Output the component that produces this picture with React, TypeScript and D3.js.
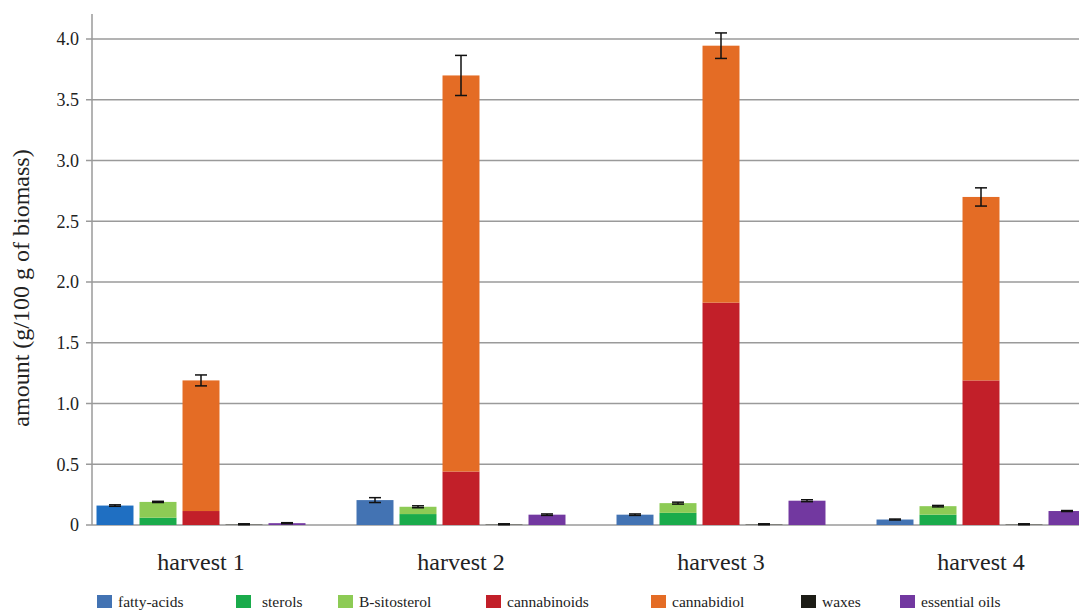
import React, { useEffect } from 'react';
import * as d3 from 'd3';

// harvests on the x axis
const harvests = ['harvest 1', 'harvest 2', 'harvest 3', 'harvest 4'];

// series values (g/100 g of biomass)
const fattyAcids = [0.16, 0.205, 0.085, 0.045];
const sterols = [0.06, 0.09, 0.1, 0.085];
const bSitosterol = [0.13, 0.06, 0.08, 0.07];
const cannabinoids = [0.115, 0.44, 1.83, 1.19];
const cannabidiol = [1.075, 3.26, 2.115, 1.51];
const waxes = [0.006, 0.006, 0.006, 0.006];
const essentialOils = [0.015, 0.085, 0.2, 0.115];

// error bars (half length) on top of each column
const errFatty = [0.006, 0.02, 0.006, 0.004];
const errSterols = [0.005, 0.008, 0.008, 0.006];
const errCannab = [0.045, 0.165, 0.105, 0.075];
const errWaxes = [0.004, 0.004, 0.004, 0.004];
const errOils = [0.004, 0.006, 0.008, 0.004];

const yTicks = [0, 0.5, 1, 1.5, 2, 2.5, 3, 3.5, 4];
const tickLabels = ['0', '0.5', '1.0', '1.5', '2.0', '2.5', '3.0', '3.5', '4.0'];

const legendNames = ['fatty-acids', 'sterols', 'B-sitosterol', 'cannabinoids', 'cannabidiol', 'waxes', 'essential oils'];
const legendColors = ['#4373b3', '#1aab4b', '#8dcb55', '#c21f29', '#e46c25', '#1c1c16', '#7238a0'];
const legendX = [97, 236, 338, 486, 651, 801, 900];

const columns = ['fatty', 'sterol', 'cannab', 'wax', 'oil'];

const serif = "'Liberation Serif', 'DejaVu Serif', 'Times New Roman', Times, serif";

export default function App() {
  useEffect(() => {
    document.body.style.margin = '0';
  }, []);

  const width = 1079;
  const height = 611;
  const axisX = 92;

  const y = d3.scaleLinear().domain([0, 4]).range([525, 39]);
  const x = d3.scaleBand().domain(harvests).range([71, 1111]);
  const inner = d3.scaleBand().domain(columns).range([-107.5, 107.5]).paddingInner(0.14).paddingOuter(0.07);
  const bw = inner.bandwidth();

  // each column: list of stacked segments and an error bar
  const stacks = harvests.map((h, i) => [
    { col: 'fatty', segs: [{ v: fattyAcids[i], c: i === 0 ? '#1f6fc2' : legendColors[0] }], err: errFatty[i] },
    { col: 'sterol', segs: [{ v: sterols[i], c: legendColors[1] }, { v: bSitosterol[i], c: legendColors[2] }], err: errSterols[i] },
    { col: 'cannab', segs: [{ v: cannabinoids[i], c: legendColors[3] }, { v: cannabidiol[i], c: legendColors[4] }], err: errCannab[i] },
    { col: 'wax', segs: [{ v: waxes[i], c: '#6e6e68' }], err: errWaxes[i] },
    { col: 'oil', segs: [{ v: essentialOils[i], c: legendColors[6] }], err: errOils[i] },
  ]);

  return (
    <svg width={width} height={height} style={{ display: 'block', background: '#fff', fontFamily: serif }}>
      {/* grid lines */}
      {yTicks.slice(1).map((t) => (
        <line key={t} x1={axisX - 6} x2={width} y1={y(t)} y2={y(t)} stroke="#9a9a9a" strokeWidth={1.5} />
      ))}
      <line x1={axisX - 6} x2={width} y1={y(0)} y2={y(0)} stroke="#9a9a9a" strokeWidth={1.5} />
      <line x1={axisX} x2={axisX} y1={14} y2={y(0)} stroke="#9a9a9a" strokeWidth={1.5} />
      {yTicks.map((t, i) => (
        <text key={t} x={79} y={y(t)} dy="0.35em" textAnchor="end" fontSize={18} fill="#222" style={{ fontFamily: serif }}>
          {tickLabels[i]}
        </text>
      ))}
      <text
        transform={`translate(29,288) rotate(-90)`}
        textAnchor="middle"
        fontSize={24}
        fill="#222"
        style={{ fontFamily: serif }}
      >
        amount (g/100 g of biomass)
      </text>

      {/* bars */}
      {harvests.map((h, i) => {
        const cx = (x(h) as number) + x.bandwidth() / 2;
        return (
          <g key={h}>
            {stacks[i].map((s) => {
              const bx = cx + (inner(s.col) as number);
              let acc = 0;
              const rects = s.segs.map((seg, k) => {
                const y0 = acc;
                acc += seg.v;
                return <rect key={k} x={bx} width={bw} y={y(acc)} height={y(y0) - y(acc)} fill={seg.c} />;
              });
              const mx = bx + bw / 2;
              return (
                <g key={s.col}>
                  {rects}
                  <line x1={mx} x2={mx} y1={y(acc + s.err)} y2={y(acc - s.err)} stroke="#111" strokeWidth={1.5} />
                  <line x1={mx - 6} x2={mx + 6} y1={y(acc + s.err)} y2={y(acc + s.err)} stroke="#111" strokeWidth={1.5} />
                  <line x1={mx - 6} x2={mx + 6} y1={y(acc - s.err)} y2={y(acc - s.err)} stroke="#111" strokeWidth={1.5} />
                </g>
              );
            })}
            <text x={cx} y={570} textAnchor="middle" fontSize={24} fill="#222" style={{ fontFamily: serif }}>
              {h}
            </text>
          </g>
        );
      })}

      {/* legend */}
      {legendNames.map((n, i) => (
        <g key={n} transform={`translate(${legendX[i]},595)`}>
          <rect width={15} height={13} fill={legendColors[i]} />
          <text x={i === 1 ? 26 : 21} y={12} fontSize={15.5} fill="#222" style={{ fontFamily: serif }}>
            {n}
          </text>
        </g>
      ))}
    </svg>
  );
}
